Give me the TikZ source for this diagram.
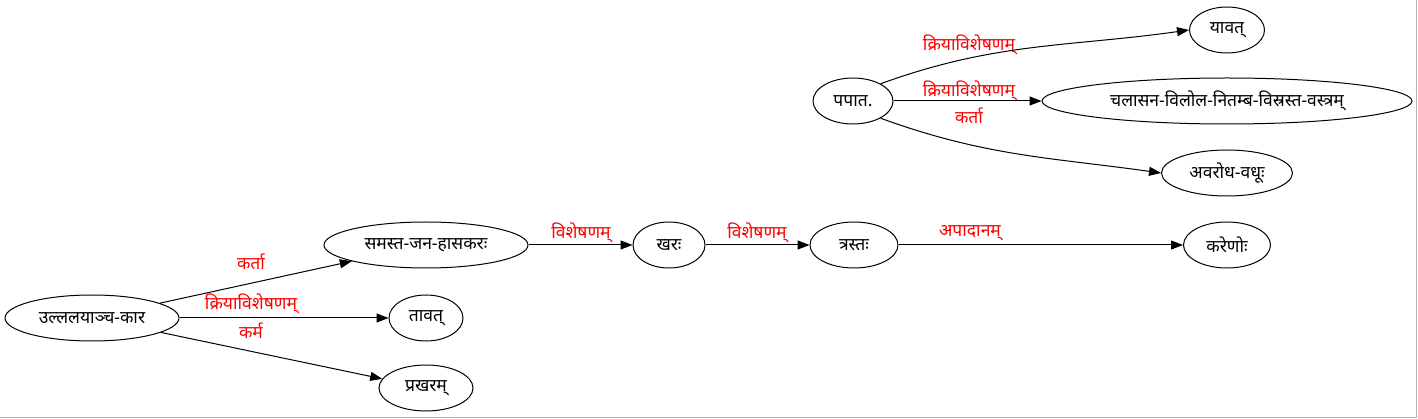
\documentclass[tikz,border=0pt]{standalone}
\usepackage{fontspec}
\newfontfamily\deva[Script=Devanagari]{Noto Sans}
\usetikzlibrary{shapes.geometric,arrows.meta}
\begin{document}
\begin{tikzpicture}[x=1pt,y=-1pt,
  nd/.style={ellipse,draw,line width=1pt,inner sep=0pt,minimum height=46pt,font=\deva\fontsize{17.5}{20}\selectfont},
  ed/.style={line width=1pt,-{Triangle[length=12pt,width=9pt]}},
  lb/.style={text=red,font=\deva\fontsize{17.5}{20}\selectfont,inner sep=0pt}]
\useasboundingbox (0,0) rectangle (1418,419);
\draw[gray!60,line width=1pt] (0,417.5) -- (1416.5,417.5) -- (1416.5,0);
\node[nd,minimum width=174pt] (u) at (92,318) {उल्ललयाञ्च-कार};
\node[nd,minimum width=204pt] (s) at (426,245) {समस्त-जन-हासकरः};
\node[nd,minimum width=74pt] (t) at (426,318) {तावत्};
\node[nd,minimum width=94pt] (p) at (426,388) {प्रखरम्};
\node[nd,minimum width=72pt] (k) at (669,245) {खरः};
\node[nd,minimum width=88pt] (tr) at (854,245) {त्रस्तः};
\node[nd,minimum width=87pt] (ka) at (1227,245) {करेणोः};
\node[nd,minimum width=80pt] (pa) at (853,101) {पपात.};
\node[nd,minimum width=75pt] (y) at (1227,30) {यावत्};
\node[nd,minimum width=370pt] (c) at (1227,101) {चलासन-विलोल-नितम्ब-विस्रस्त-वस्त्रम्};
\node[nd,minimum width=131pt] (a) at (1227,173) {अवरोध-वधूः};
\draw[ed] (u) -- (s);
\draw[ed] (u) -- (t);
\draw[ed] (u) -- (p);
\draw[ed] (s) -- (k);
\draw[ed] (k) -- (tr);
\draw[ed] (tr) -- (ka);
\draw[ed] (pa.32) to[out=20,in=188] (y.west);
\draw[ed] (pa) -- (c);
\draw[ed] (pa.-32) to[out=-20,in=172] (a.west);
\node[lb] (l1) at (251,262) {कर्ता};
\node[lb] (l2) at (251,304) {क्रियाविशेषणम्};
\node[lb] (l3) at (251,331) {कर्म};
\node[lb] (l4) at (581,233) {विशेषणम्};
\node[lb] (l5) at (757,233) {विशेषणम्};
\node[lb] (l6) at (970,233) {अपादानम्};
\node[lb] (l7) at (969,45) {क्रियाविशेषणम्};
\node[lb] (l8) at (969,91) {क्रियाविशेषणम्};
\node[lb] (l9) at (969,116) {कर्ता};
\end{tikzpicture}
\end{document}
